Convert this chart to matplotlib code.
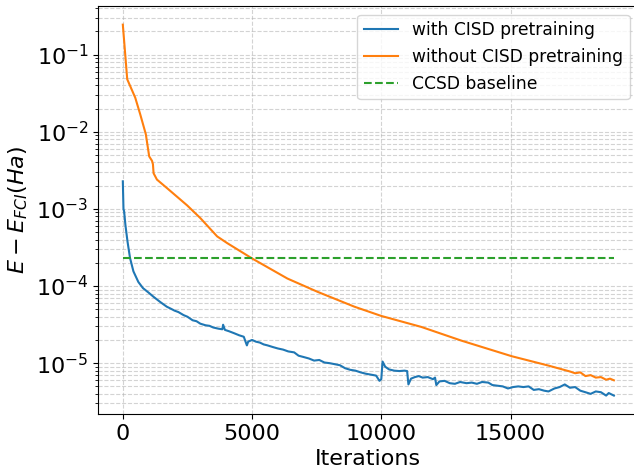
import numpy as np
import matplotlib
matplotlib.use('Agg')
import matplotlib.pyplot as plt

# error vs FCI (Ha)
it_with = [0, 25, 50, 100, 180, 280, 410, 600, 780, 1000, 1200, 1450, 1700, 1850, 2000,
           2150, 2350, 2500, 2700, 2850, 3000, 3200, 3350, 3500, 3700, 3850, 3880, 3950,
           4100, 4300, 4500, 4680, 4800, 4850, 5000, 5150, 5300, 5450, 5600, 5800, 6000,
           6200, 6400, 6630, 6800, 7000, 7200, 7400, 7600, 7800, 8000, 8200, 8400, 8600,
           8800, 9000, 9200, 9400, 9600, 9800, 9930, 10000, 10050, 10150, 10300, 10500,
           10700, 10900, 11000, 11050, 11150, 11300, 11450, 11600, 11800, 12000, 12080,
           12130, 12250, 12450, 12650, 12850, 13050, 13300, 13500, 13700, 13900, 14140,
           14300, 14500, 14700, 14900, 15100, 15300, 15500, 15700, 15900, 16100, 16300,
           16470, 16700, 16900, 17100, 17300, 17500, 17700, 17900, 18100, 18300, 18500,
           18700, 18800, 19000]
err_with = [2.28e-3, 1.0e-3, 9.3e-4, 6.2e-4, 3.8e-4, 2.3e-4, 1.55e-4, 1.13e-4, 9.4e-5,
            8.2e-5, 7.2e-5, 6.2e-5, 5.4e-5, 5.1e-5, 4.8e-5, 4.6e-5, 4.2e-5, 4.0e-5, 3.6e-5,
            3.5e-5, 3.25e-5, 3.1e-5, 3.05e-5, 2.9e-5, 2.8e-5, 2.75e-5, 3.15e-5, 2.7e-5,
            2.6e-5, 2.45e-5, 2.3e-5, 2.2e-5, 1.7e-5, 1.9e-5, 2.0e-5, 1.9e-5, 1.85e-5,
            1.75e-5, 1.7e-5, 1.62e-5, 1.55e-5, 1.5e-5, 1.42e-5, 1.38e-5, 1.25e-5, 1.2e-5,
            1.15e-5, 1.08e-5, 1.1e-5, 1.02e-5, 1.0e-5, 9.7e-6, 9.4e-6, 8.6e-6, 8.2e-6,
            8.0e-6, 7.6e-6, 7.3e-6, 7.1e-6, 6.9e-6, 5.9e-6, 6.2e-6, 1.05e-5, 9.0e-6, 8.3e-6,
            8.0e-6, 7.9e-6, 8.0e-6, 7.9e-6, 5.3e-6, 6.3e-6, 6.6e-6, 6.8e-6, 6.5e-6, 6.6e-6,
            6.2e-6, 6.5e-6, 5.2e-6, 5.8e-6, 5.9e-6, 5.5e-6, 5.4e-6, 5.7e-6, 5.5e-6, 5.6e-6,
            5.4e-6, 5.7e-6, 5.6e-6, 5.2e-6, 5.1e-6, 5.0e-6, 4.7e-6, 4.9e-6, 5.0e-6, 4.9e-6,
            5.0e-6, 4.5e-6, 4.6e-6, 4.4e-6, 4.3e-6, 4.7e-6, 4.9e-6, 5.3e-6, 4.8e-6, 4.9e-6,
            4.4e-6, 4.2e-6, 4.0e-6, 4.3e-6, 4.2e-6, 3.8e-6, 4.1e-6, 3.8e-6]

it_without = [0, 170, 480, 670, 890, 1020, 1130, 1165, 1190, 1320, 1710, 2490, 3000, 3650,
              4040, 5010, 6370, 7540, 8960, 9995, 11550, 13100, 15050, 16470, 17300, 17500,
              17700, 17900, 18100, 18300, 18500, 18700, 18850, 19000]
err_without = [0.245, 0.048, 0.0277, 0.017, 0.0093, 0.0048, 0.0042, 0.0038, 0.0029, 0.0024,
               0.00186, 0.00111, 0.00076, 0.00044, 0.00036, 2.27e-4, 1.25e-4, 8.4e-5, 5.4e-5,
               4.1e-5, 2.95e-5, 1.96e-5, 1.23e-5, 9.3e-6, 7.8e-6, 7.4e-6, 7.6e-6, 6.8e-6,
               7.0e-6, 6.5e-6, 6.6e-6, 6.1e-6, 6.3e-6, 6.0e-6]

ccsd_err = 2.32e-4
ccsd_range = [0, 19000]

fig = plt.figure(figsize=(6.34, 4.69), dpi=100)
ax = fig.add_axes([0.155, 0.117, 0.852, 0.870])

ax.plot(it_with, err_with, label='with CISD pretraining')
ax.plot(it_without, err_without, label='without CISD pretraining')
ax.plot(ccsd_range, [ccsd_err, ccsd_err], '--', label='CCSD baseline')
ax.set_yscale('log')

ax.grid(True, which='both', linestyle='--', color='#b0b0b0', alpha=0.55)
ax.tick_params(labelsize=16)
ax.set_xlabel('Iterations', fontsize=16)
ax.set_ylabel('$E - E_{FCI}(Ha)$', fontsize=16)
ax.legend(fontsize=12.3, loc='upper right')

fig.savefig('out.png', dpi=100)
